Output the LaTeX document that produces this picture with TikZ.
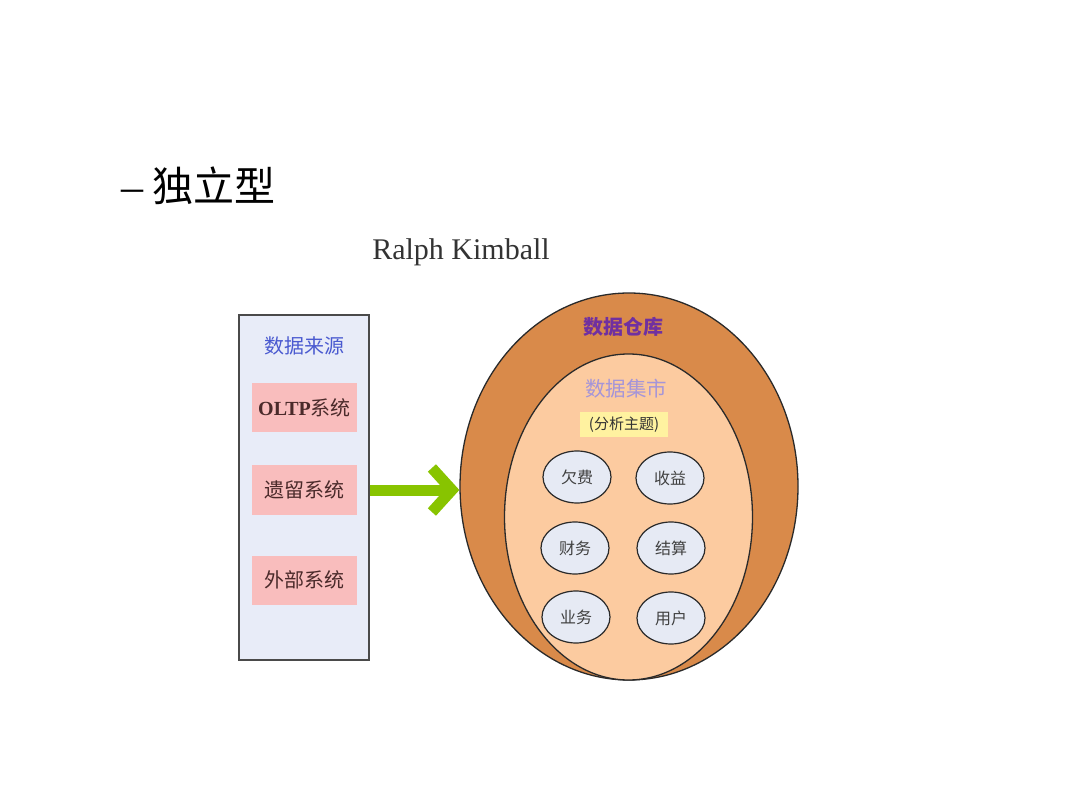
\documentclass[tikz,border=0pt]{standalone}
\usepackage{fontspec}
\setmainfont{Liberation Serif}
\newfontfamily\cjk{Noto Sans CJK SC}
\usetikzlibrary{shapes.geometric,arrows.meta}
\definecolor{srcfill}{HTML}{E8ECF8}
\definecolor{srcblue}{HTML}{4A5AD0}
\definecolor{pinkbox}{HTML}{F9BDBD}
\definecolor{pinktext}{HTML}{4A2A2A}
\definecolor{dwfill}{HTML}{D98A4A}
\definecolor{dmfill}{HTML}{FCCBA0}
\definecolor{dwtext}{HTML}{7030A0}
\definecolor{dmtext}{HTML}{A595D8}
\definecolor{topicfill}{HTML}{E6EAF4}
\definecolor{yellowbox}{HTML}{FFF2A0}
\definecolor{arrowgreen}{HTML}{88C400}
\definecolor{edge}{HTML}{2A2A2A}
\tikzset{
  srcitem/.style={fill=pinkbox, minimum width=105pt, minimum height=49pt, inner sep=0pt, text=pinktext, font=\fontsize{20}{22}\selectfont\cjk},
  topic/.style={ellipse, draw=edge, line width=1.2pt, fill=topicfill, minimum width=68pt, minimum height=52pt, inner sep=0pt, text=black!75, font=\fontsize{16}{18}\selectfont\cjk},
}
\begin{document}
\begin{tikzpicture}[x=1pt,y=-1pt]
\useasboundingbox[fill=white] (0,0) rectangle (1080,810);
% title
\node[anchor=west, inner sep=0pt, font=\fontsize{44}{46}\selectfont] (title) at (121,186) {–\hspace{9pt}{\cjk\fontsize{41}{44}\selectfont 独立型}};
\node[inner sep=0pt, font=\fontsize{30}{32}\selectfont, text=black!80] (author) at (461,252) {Ralph Kimball};
% sources
\node[draw=edge!85, line width=1.3pt, fill=srcfill, minimum width=130pt, minimum height=345pt, inner sep=0pt] (src) at (304,487.5) {};
\node[inner sep=0pt, text=srcblue, font=\fontsize{20}{22}\selectfont\cjk] (srctitle) at (304,346) {数据来源};
\node[srcitem] (oltp) at (304.5,408) {{\rmfamily\bfseries OLTP}系统};
\node[srcitem] (legacy) at (304.5,490) {遗留系统};
\node[srcitem] (ext) at (304.5,580) {外部系统};
% warehouse
\node[ellipse, draw=edge, line width=1.3pt, fill=dwfill, minimum width=338pt, minimum height=387pt, inner sep=0pt] (dw) at (629,486.5) {};
\node[ellipse, draw=edge, line width=1.3pt, fill=dmfill, minimum width=248pt, minimum height=326pt, inner sep=0pt] (dm) at (628.5,517) {};
\node[inner sep=0pt, text=dwtext, font=\fontsize{20}{22}\selectfont\cjk\bfseries] (dwlabel) at (623,327) {数据仓库};
\node[inner sep=0pt, text=dmtext, font=\fontsize{20.5}{22}\selectfont\cjk] (dmlabel) at (626,389) {数据集市};
\node[fill=yellowbox, minimum width=88pt, minimum height=25pt, inner sep=0pt, text=black!80, font=\fontsize{15}{17}\selectfont\cjk] (subject) at (624,424.5) {(分析主题)};
\node[topic] (t1) at (577,477) {欠费};
\node[topic] (t2) at (670,478) {收益};
\node[topic] (t3) at (575,548) {财务};
\node[topic] (t4) at (671,548) {结算};
\node[topic] (t5) at (576,617) {业务};
\node[topic] (t6) at (671,618) {用户};
% arrow
\draw[arrowgreen, line width=11pt, -{Straight Barb[length=20pt,width=44pt]}] (legacy.east -| src.east) -- (dw.west |- legacy.east);
\end{tikzpicture}
\end{document}
